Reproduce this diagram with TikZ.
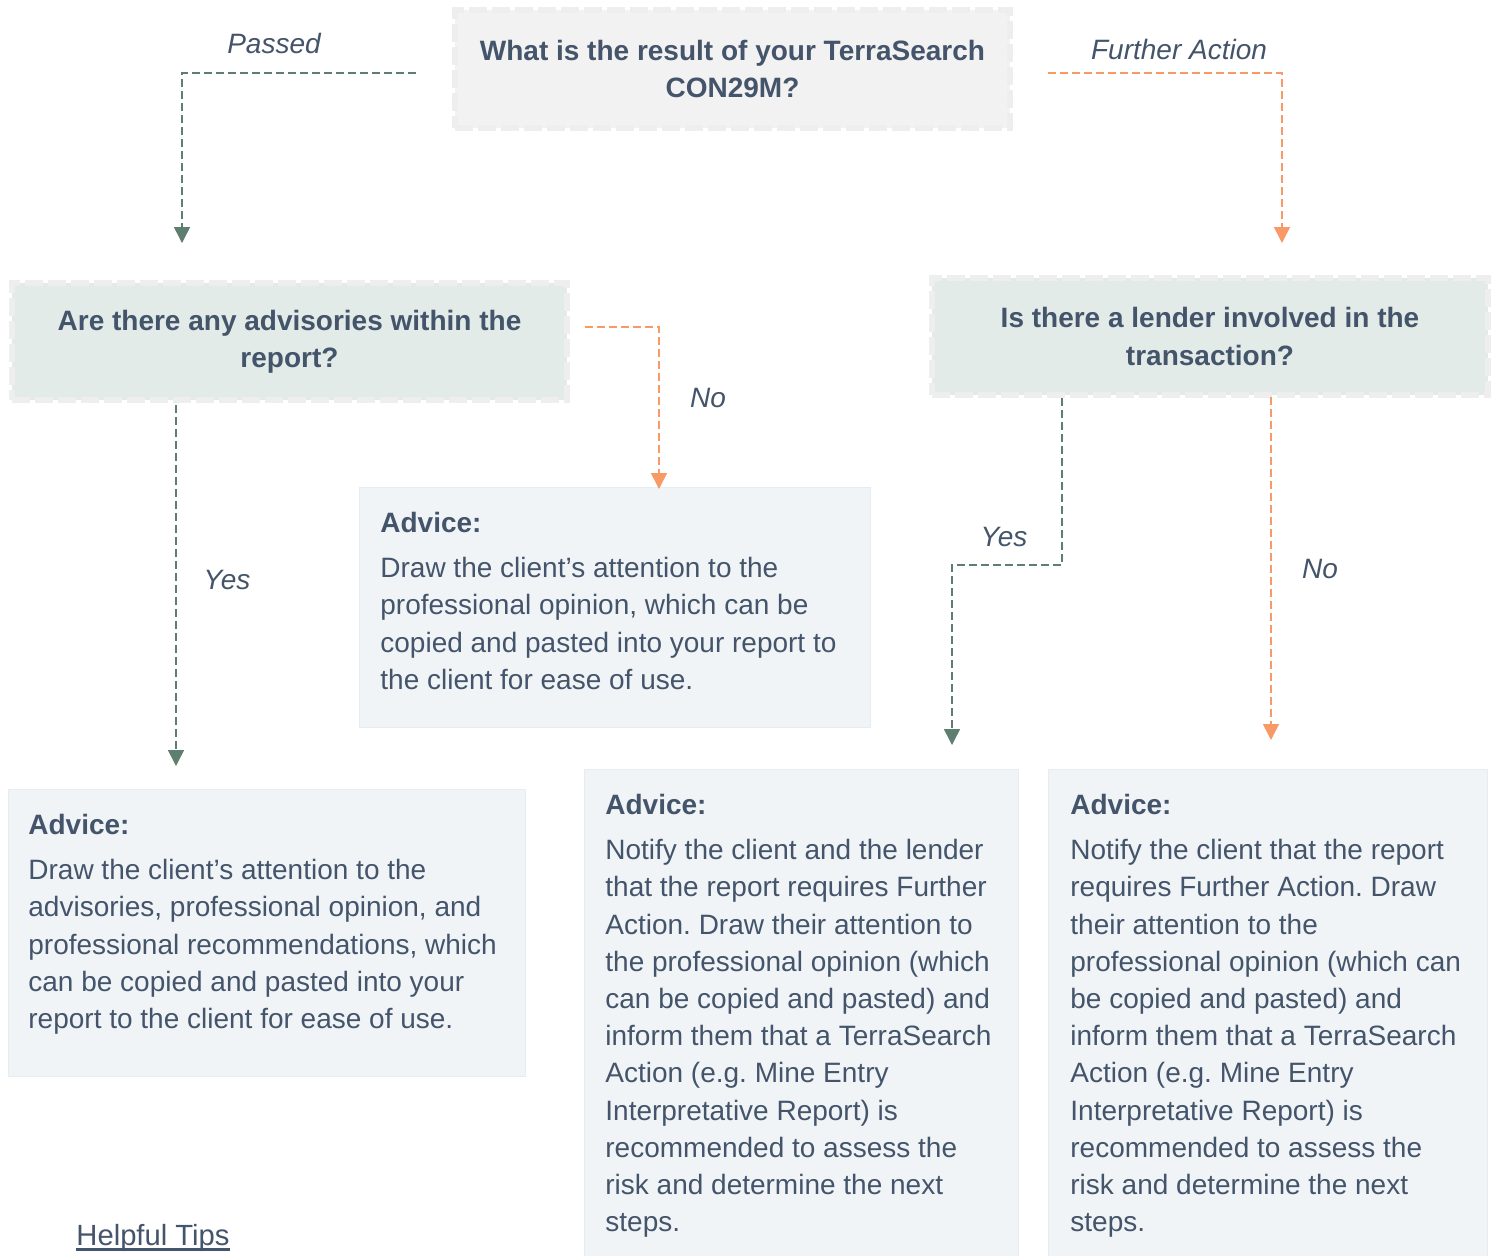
\documentclass[tikz,border=0pt]{standalone}
\usepackage{fontspec}
\setmainfont{Liberation Sans}
\frenchspacing
\usetikzlibrary{arrows.meta}
\definecolor{textc}{HTML}{44546A}
\definecolor{greenc}{HTML}{5E7F70}
\definecolor{orangec}{HTML}{F79A66}
\definecolor{topfill}{HTML}{F2F2F2}
\definecolor{decfill}{HTML}{E3EBE8}
\definecolor{decborder}{HTML}{EEEEEE}
\definecolor{advfill}{HTML}{F0F4F7}
\definecolor{advborder}{HTML}{E6ECF0}
\tikzset{
  basefont/.style={font=\fontsize{14}{18.6}\selectfont, text=textc},
  qbox/.style={basefont, rectangle, draw=decborder, line width=3pt,
    dash pattern=on 9pt off 2.5pt, align=center, inner sep=0pt},
  advbox/.style={rectangle, fill=advfill, draw=advborder, line width=0.5pt, inner sep=0pt},
  advtext/.style={basefont, align=left, anchor=north west, inner sep=0pt},
  lbl/.style={basefont, font=\fontsize{14}{18.6}\selectfont\itshape},
  conn/.style={line width=0.75pt, dash pattern=on 4pt off 2pt,
    -{Triangle[length=8pt,width=8pt,sep=0pt]}},
  gline/.style={conn, draw=greenc},
  oline/.style={conn, draw=orangec},
}
\begin{document}
\begin{tikzpicture}[x=0.5pt,y=-0.5pt]
\useasboundingbox (0,0) rectangle (1496,1255);
\fill[white] (0,0) rectangle (1496,1255);

% question boxes
\node[qbox, fill=topfill, minimum width=277.5pt, minimum height=59pt] (q1) at (732.5,69)
  {\bfseries What is the result of your TerraSearch\\\bfseries CON29M?};
\node[qbox, fill=decfill, minimum width=277.5pt, minimum height=58.5pt] (q2) at (289.5,341.5)
  {\bfseries Are there any advisories within the\\\bfseries report?};
\node[qbox, fill=decfill, minimum width=278pt, minimum height=58.5pt] (q3) at (1210,336.5)
  {\bfseries Is there a lender involved in the\\\bfseries transaction?};

% advice boxes
\node[advbox, minimum width=255.5pt, minimum height=120pt] (a1) at (614.5,607) {};
\node[advbox, minimum width=258.5pt, minimum height=143.5pt] (a2) at (266.5,932.5) {};
\node[advbox, minimum width=217pt, minimum height=250.5pt] (a3) at (801,1019.5) {};
\node[advbox, minimum width=219.5pt, minimum height=250.5pt] (a4) at (1267.5,1019.5) {};

\node[advtext] (t1) at (380,512) {\bfseries Advice:\\[3.9pt]
Draw the client’s attention to the\\
professional opinion, which can be\\
copied and pasted into your report to\\
the client for ease of use.};
\node[advtext] (t2) at (28,814) {\bfseries Advice:\\[3.9pt]
Draw the client’s attention to the\\
advisories, professional opinion, and\\
professional recommendations, which\\
can be copied and pasted into your\\
report to the client for ease of use.};
\node[advtext] (t3) at (605,794) {\bfseries Advice:\\[3.9pt]
Notify the client and the lender\\
that the report requires Further\\
Action. Draw their attention to\\
the professional opinion (which\\
can be copied and pasted) and\\
inform them that a TerraSearch\\
Action (e.g. Mine Entry\\
Interpretative Report) is\\
recommended to assess the\\
risk and determine the next\\
steps.};
\node[advtext] (t4) at (1070,794) {\bfseries Advice:\\[3.9pt]
Notify the client that the report\\
requires Further Action. Draw\\
their attention to the\\
professional opinion (which can\\
be copied and pasted) and\\
inform them that a TerraSearch\\
Action (e.g. Mine Entry\\
Interpretative Report) is\\
recommended to assess the\\
risk and determine the next\\
steps.};

% connector end points
\coordinate (s1) at (416,73);
\coordinate (e1) at (182,243);
\coordinate (s2) at (1048,73);
\coordinate (e2) at (1282,243);
\coordinate (s3) at (585,327);
\coordinate (e3) at (659,489);
\coordinate (s4) at (176,405);
\coordinate (e4) at (176,766);
\coordinate (s5) at (1062,398);
\coordinate (m5) at (952,565);
\coordinate (e5) at (952,745);
\coordinate (s6) at (1271,397);
\coordinate (e6) at (1271,740);

\draw[gline] (s1) -| (e1);
\draw[oline] (s2) -| (e2);
\draw[oline] (s3) -| (e3);
\draw[gline] (s4) -- (e4);
\draw[gline] (s5) |- (m5) -- (e5);
\draw[oline] (s6) -- (e6);

% labels
\node[lbl] (l1) at (274,43) {Passed};
\node[lbl] (l2) at (1179,49) {Further Action};
\node[lbl] (l3) at (708,398) {No};
\node[lbl] (l4) at (227,580) {Yes};
\node[lbl] (l5) at (1004,537) {Yes};
\node[lbl] (l6) at (1320,569) {No};

\node[basefont, font=\fontsize{14.6}{18}\selectfont, inner sep=0pt] (tips) at (153,1238) {Helpful Tips};
\draw[textc, line width=1.6pt] ([yshift=-2pt]tips.base west) -- ([yshift=-2pt]tips.base east);
\end{tikzpicture}
\end{document}
